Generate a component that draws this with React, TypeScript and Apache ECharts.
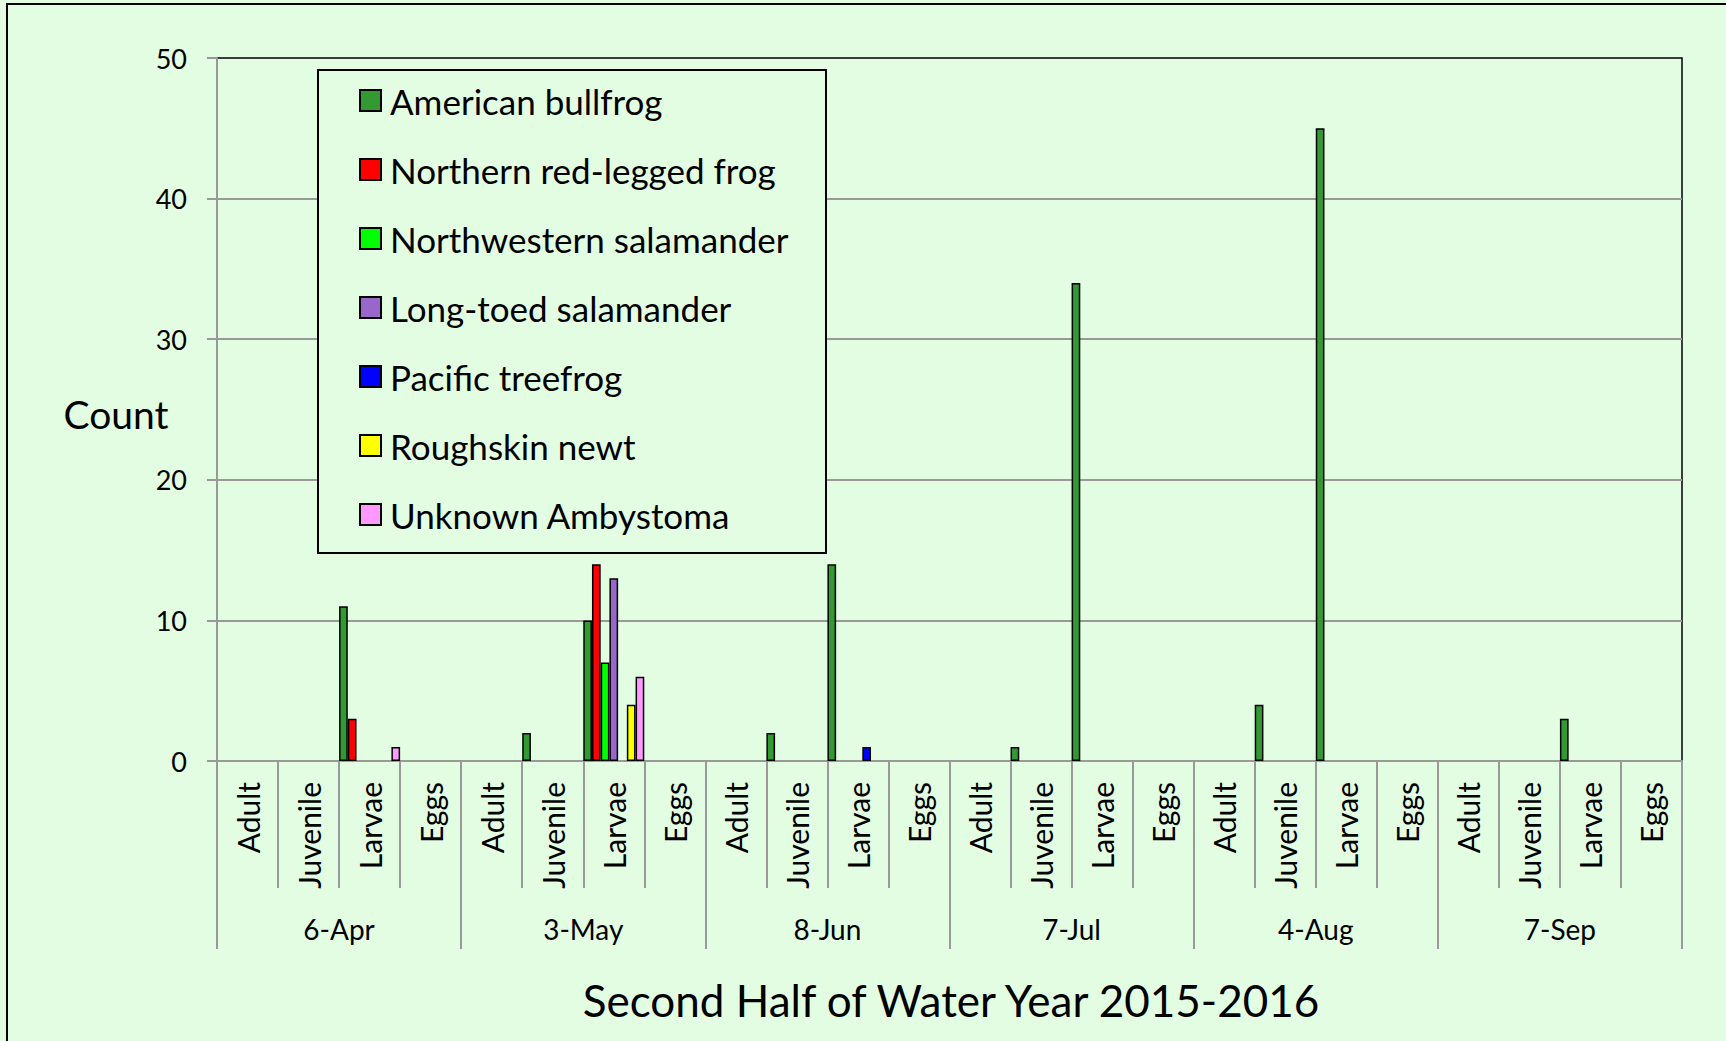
import React, { useEffect, useRef } from "react";
import * as echarts from "echarts";

const dates = ["6-Apr", "3-May", "8-Jun", "7-Jul", "4-Aug", "7-Sep"];
const stages = ["Adult", "Juvenile", "Larvae", "Eggs"];
const yTicks = { min: 0, max: 50, interval: 10 };

const speciesNames = [
  "American bullfrog",
  "Northern red-legged frog",
  "Northwestern salamander",
  "Long-toed salamander",
  "Pacific treefrog",
  "Roughskin newt",
  "Unknown Ambystoma",
];
const speciesColors = ["#339933", "#FF0000", "#00FF00", "#9966CC", "#0000FF", "#FFFF00", "#FF99FF"];

// 24 values: for each date, Adult, Juvenile, Larvae, Eggs
const americanBullfrog = [null, null, 11, null, null, 2, 10, null, null, 2, 14, null, null, 1, 34, null, null, 4, 45, null, null, null, 3, null];
const northernRedLegged = [null, null, 3, null, null, null, 14, null, null, null, null, null, null, null, null, null, null, null, null, null, null, null, null, null];
const northwesternSalamander = [null, null, null, null, null, null, 7, null, null, null, null, null, null, null, null, null, null, null, null, null, null, null, null, null];
const longToedSalamander = [null, null, null, null, null, null, 13, null, null, null, null, null, null, null, null, null, null, null, null, null, null, null, null, null];
const pacificTreefrog = [null, null, null, null, null, null, null, null, null, null, 1, null, null, null, null, null, null, null, null, null, null, null, null, null];
const roughskinNewt = [null, null, null, null, null, null, 4, null, null, null, null, null, null, null, null, null, null, null, null, null, null, null, null, null];
const unknownAmbystoma = [null, null, 1, null, null, null, 6, null, null, null, null, null, null, null, null, null, null, null, null, null, null, null, null, null];

const seriesValues = [
  americanBullfrog,
  northernRedLegged,
  northwesternSalamander,
  longToedSalamander,
  pacificTreefrog,
  roughskinNewt,
  unknownAmbystoma,
];

const FONT = "Lato";
const BG = "#E3FDE3";
const GREY = "#999999";

export default function App() {
  const ref = useRef<HTMLDivElement>(null);
  useEffect(() => {
    if (!ref.current) return;
    const chart = echarts.init(ref.current, null, { renderer: "svg" });
    const categories: string[] = [];
    dates.forEach(() => stages.forEach((s) => categories.push(s)));

    const option: any = {
      animation: false,
      backgroundColor: BG,
      textStyle: { fontFamily: FONT, color: "#000" },
      grid: {
        left: 217,
        right: 44,
        top: 58,
        bottom: 280,
        show: true,
        borderColor: "#000",
        borderWidth: 1.5,
        backgroundColor: "transparent",
      },
      legend: {
        orient: "vertical",
        left: 359,
        top: 83,
        padding: 0,
        itemWidth: 21,
        itemHeight: 21,
        itemGap: 34,
        icon: "rect",
        data: speciesNames,
        textStyle: {
          fontFamily: FONT,
          fontSize: 35,
          lineHeight: 32,
          color: "#000",
          padding: [0, 0, 0, 4],
        },
      },
      xAxis: [
        {
          type: "category",
          data: categories,
          position: "bottom",
          axisLine: { show: true, lineStyle: { color: GREY, width: 2 } },
          axisTick: { show: true, interval: 0, length: 127, lineStyle: { color: GREY, width: 2 } },
          axisLabel: {
            interval: 0,
            rotate: 90,
            margin: 21,
            fontFamily: FONT,
            fontSize: 30,
            color: "#000",
          },
          splitLine: { show: false },
        },
        {
          type: "category",
          data: dates,
          position: "bottom",
          axisLine: { show: false },
          axisTick: { show: true, interval: 0, length: 188, lineStyle: { color: GREY, width: 2 } },
          axisLabel: {
            interval: 0,
            margin: 154,
            fontFamily: FONT,
            fontSize: 28,
            color: "#000",
          },
          splitLine: { show: false },
        },
      ],
      yAxis: {
        type: "value",
        min: yTicks.min,
        max: yTicks.max,
        interval: yTicks.interval,
        axisLine: { show: true, lineStyle: { color: GREY, width: 2 } },
        axisTick: { show: true, length: 10, lineStyle: { color: GREY, width: 2 } },
        axisLabel: { margin: 30, fontFamily: FONT, fontSize: 27, color: "#000" },
        splitLine: { show: true, showMaxLine: false, lineStyle: { color: GREY, width: 2 } },
      },
      series: speciesNames.map((name, i) => ({
        name,
        type: "bar",
        xAxisIndex: 0,
        data: seriesValues[i],
        barGap: "0%",
        barCategoryGap: "0%",
        itemStyle: { color: speciesColors[i], borderColor: "#000", borderWidth: 1.5 },
      })),
      graphic: [
        {
          type: "rect",
          z: 100,
          shape: { x: 7, y: 4, width: 1740, height: 1060 },
          style: { fill: "none", stroke: "#000", lineWidth: 2 },
          silent: true,
        },
        {
          type: "rect",
          z: 3,
          shape: { x: 318, y: 70, width: 508, height: 483 },
          style: { fill: BG, stroke: "#000", lineWidth: 2 },
          silent: true,
        },
        {
          type: "text",
          z: 5,
          x: 116,
          y: 414,
          style: {
            text: "Count",
            fontFamily: FONT,
            fontSize: 39,
            fill: "#000",
            textAlign: "center",
            textVerticalAlign: "middle",
          },
        },
        {
          type: "text",
          z: 5,
          x: 951,
          y: 1000,
          style: {
            text: "Second Half of Water Year 2015-2016",
            fontFamily: FONT,
            fontSize: 44,
            fill: "#000",
            textAlign: "center",
            textVerticalAlign: "middle",
          },
        },
      ],
    };
    chart.setOption(option);
    return () => chart.dispose();
  }, []);
  return (
    <div
      ref={ref}
      style={{ position: "fixed", left: 0, top: 0, width: 1726, height: 1041 }}
    />
  );
}
